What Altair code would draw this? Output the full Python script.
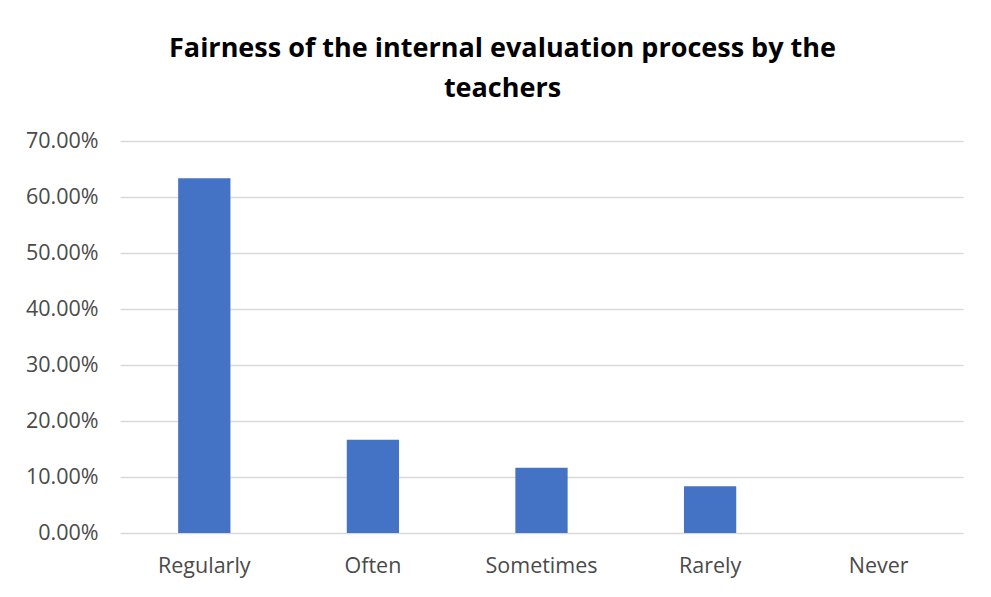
import altair as alt
import pandas as pd

categories = ["Regularly", "Often", "Sometimes", "Rarely", "Never"]
shares = [0.6333, 0.1667, 0.1167, 0.0833, 0.0]
y_ticks = [0.0, 0.1, 0.2, 0.3, 0.4, 0.5, 0.6, 0.7]

df = pd.DataFrame({"category": categories, "share": shares})

FONT = "Open Sans"

chart = (
    alt.Chart(df)
    .mark_bar(color="#4472C4")
    .encode(
        x=alt.X(
            "category:N",
            sort=categories,
            title=None,
            scale=alt.Scale(paddingInner=0.69, paddingOuter=0.345),
            axis=alt.Axis(
                labelAngle=0,
                labelFont=FONT,
                labelFontSize=21.5,
                labelColor="#4a4a4a",
                labelPadding=22,
                ticks=False,
                domain=False,
                grid=False,
            ),
        ),
        y=alt.Y(
            "share:Q",
            title=None,
            scale=alt.Scale(domain=[0, 0.7], nice=False),
            axis=alt.Axis(
                values=y_ticks,
                format=".2%",
                labelFont=FONT,
                labelFontSize=21.5,
                labelColor="#4a4a4a",
                labelPadding=22,
                ticks=False,
                domain=False,
                grid=True,
                gridColor="#d9d9d9",
                gridWidth=1.3,
            ),
        ),
    )
    .properties(
        width=843,
        height=392,
        background="white",
        autosize=alt.AutoSizeParams(type="none"),
        padding={"left": 112, "top": 133, "right": 20, "bottom": 55},
        title=alt.TitleParams(
            text=["Fairness of the internal evaluation process by the", "teachers"],
            font=FONT,
            fontSize=27,
            fontWeight="bold",
            color="#000000",
            anchor="middle",
            dx=-39,
            offset=27,
            lineHeight=40,
        ),
    )
    .configure_view(stroke="transparent", strokeWidth=0)
)

chart.save("out.html", embed_options={"renderer": "svg", "actions": False})
